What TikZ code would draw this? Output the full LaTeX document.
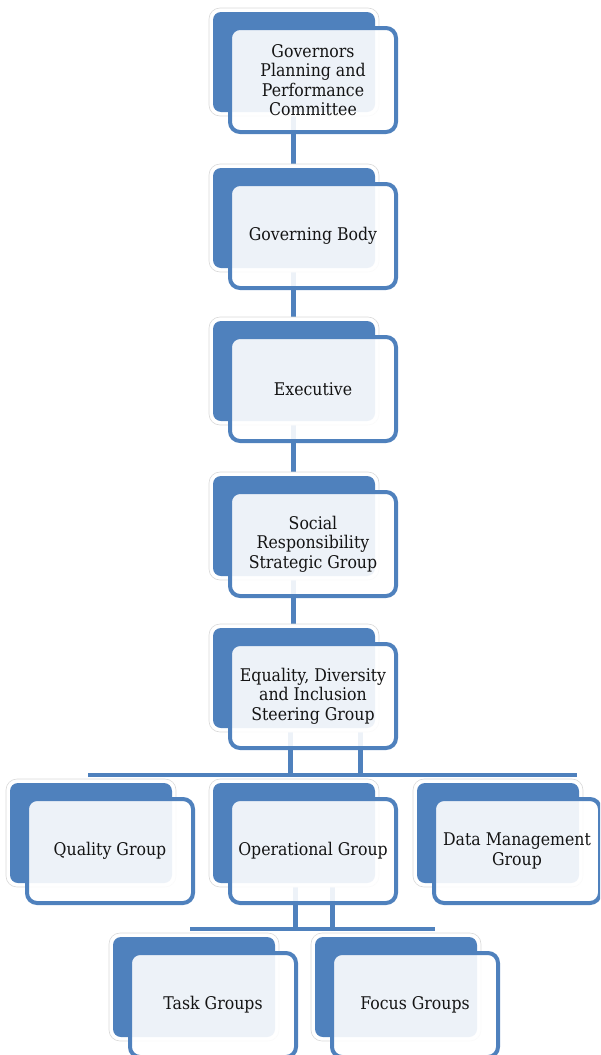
\documentclass[tikz,border=0pt]{standalone}
\usepackage{fontspec}
\setmainfont{DejaVu Serif}[FakeStretch=0.9]
\usetikzlibrary{calc}
\definecolor{sblue}{RGB}{79,129,189}
\definecolor{txt}{RGB}{20,20,20}
\pgfdeclarelayer{bg}
\pgfsetlayers{bg,main}
\tikzset{
  glow/.style={draw=gray!30, line width=0.6pt, fill=white, rounded corners=11pt},
  backbox/.style={fill=sblue, rounded corners=8pt},
  frontbox/.style={draw=sblue, line width=4pt, fill=white, fill opacity=0.9, text opacity=1,
    rounded corners=10pt, minimum width=166pt, minimum height=104pt, inner sep=0pt, outer sep=0pt,
    align=center, text=txt, font=\fontsize{17.5}{19.5}\selectfont},
  conn/.style={draw=sblue, line width=5pt},
  bus/.style={draw=sblue, line width=4pt},
}
\newcommand\orgbox[4]{%
  \path[glow] ({#2-19},{#3-18}) rectangle ++(170,108);
  \path[backbox] ({#2-15},{#3-14}) rectangle ++(162,100);
  \node[frontbox, anchor=north west] (#1) at ({#2+2},{#3+2}) {#4};
}
\begin{document}
\begin{tikzpicture}[x=1pt,y=-1pt]
\clip (0,0) rectangle (600,1055);
\orgbox{n1}{228}{26}{Governors\\Planning and\\Performance\\Committee}
\orgbox{n2}{228}{182}{Governing Body}
\orgbox{n3}{228}{335}{Executive}
\orgbox{n4}{228}{490}{Social\\Responsibility\\Strategic Group}
\orgbox{n5}{228}{642}{Equality, Diversity\\and Inclusion\\Steering Group}
\orgbox{q}{25}{797}{Quality Group}
\orgbox{op}{228}{797}{Operational Group}
\orgbox{dm}{432}{797}{Data Management\\Group}
\orgbox{tg}{128}{951}{Task Groups}
\orgbox{fg}{330}{951}{Focus Groups}
\begin{pgfonlayer}{bg}
  \coordinate (sp) at (293,0);
  \draw[conn] (sp |- n1.center) -- (sp |- n5.center);
  % Equality -> row 3
  \coordinate (ba) at (88,775);
  \coordinate (bb) at (577,775);
  \draw[bus] (ba) -- (bb);
  \coordinate (e1) at ($(n5.center)+(-23,0)$);
  \coordinate (e2) at ($(n5.center)+(47,0)$);
  \draw[conn] (e1) -- (e1 |- ba);
  \draw[conn] (e2) -- (e2 |- ba);
  % Operational -> row 4
  \coordinate (ca) at (190,929);
  \coordinate (cb) at (435,929);
  \draw[bus] (ca) -- (cb);
  \coordinate (o1) at ($(op.center)+(-18,0)$);
  \coordinate (o2) at ($(op.center)+(19,0)$);
  \draw[conn] (o1) -- (o1 |- ca);
  \draw[conn] (o2) -- (o2 |- ca);
\end{pgfonlayer}
\end{tikzpicture}
\end{document}
